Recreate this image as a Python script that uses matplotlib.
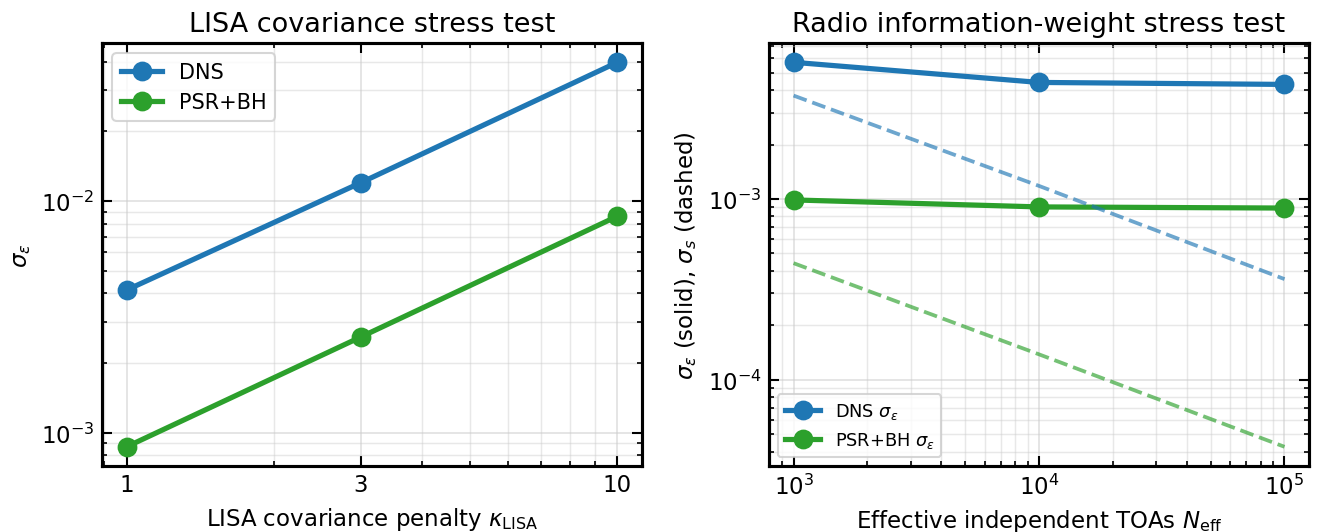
import numpy as np
import matplotlib
matplotlib.use("Agg")
import matplotlib.pyplot as plt
from matplotlib.ticker import FixedLocator, FixedFormatter, NullFormatter

# data
kappa = [1, 3, 10]
lisa_dns = [0.00413, 0.0120, 0.0397]
lisa_psrbh = [0.00087, 0.00259, 0.0086]

n_eff = [1e3, 1e4, 1e5]
radio_dns_eps = [5.70e-3, 4.41e-3, 4.30e-3]
radio_psrbh_eps = [9.87e-4, 9.03e-4, 8.90e-4]
radio_dns_s = [3.73e-3, 1.18e-3, 3.6e-4]
radio_psrbh_s = [4.41e-4, 1.38e-4, 4.25e-5]

blue = "#1f77b4"
green = "#2ca02c"

plt.rcParams["font.family"] = "DejaVu Sans"
plt.rcParams["mathtext.fontset"] = "dejavusans"

fig = plt.figure(figsize=(8.8, 3.553), dpi=150)
ax1 = fig.add_axes([0.0773, 0.1238, 0.4090, 0.7936])
ax2 = fig.add_axes([0.5826, 0.1238, 0.4091, 0.7936])


def style(ax):
    ax.set_xscale("log")
    ax.set_yscale("log")
    ax.grid(True, which="major", color="#cccccc", alpha=0.6, lw=0.8)
    ax.grid(True, which="minor", color="#cccccc", alpha=0.45, lw=0.7)
    ax.tick_params(which="both", direction="in", top=True, right=True, labelsize=11)
    ax.tick_params(which="major", length=5, width=1.0)
    ax.tick_params(which="minor", length=2.5, width=0.8)
    for s in ax.spines.values():
        s.set_linewidth(1.5)


# left panel
ax1.plot(kappa, lisa_dns, "-o", color=blue, lw=2.5, ms=8.5, label="DNS")
ax1.plot(kappa, lisa_psrbh, "-o", color=green, lw=2.5, ms=8.5, label="PSR+BH")
style(ax1)
ax1.xaxis.set_major_locator(FixedLocator(kappa))
ax1.xaxis.set_major_formatter(FixedFormatter(["1", "3", "10"]))
ax1.xaxis.set_minor_formatter(NullFormatter())
ax1.set_title("LISA covariance stress test", fontsize=13)
ax1.set_xlabel(r"LISA covariance penalty $\kappa_{\rm LISA}$", fontsize=11)
ax1.set_ylabel(r"$\sigma_\varepsilon$", fontsize=11)
ax1.legend(loc="upper left", fontsize=10)

# right panel
ax2.plot(n_eff, radio_dns_eps, "-o", color=blue, lw=2.5, ms=8.5, label=r"DNS $\sigma_\varepsilon$")
ax2.plot(n_eff, radio_psrbh_eps, "-o", color=green, lw=2.5, ms=8.5, label=r"PSR+BH $\sigma_\varepsilon$")
ax2.plot(n_eff, radio_dns_s, "--", color=blue, lw=1.8, alpha=0.65)
ax2.plot(n_eff, radio_psrbh_s, "--", color=green, lw=1.8, alpha=0.65)
style(ax2)
ax2.set_title("Radio information-weight stress test", fontsize=13)
ax2.set_xlabel(r"Effective independent TOAs $N_{\rm eff}$", fontsize=11)
ax2.set_ylabel(r"$\sigma_\varepsilon$ (solid), $\sigma_s$ (dashed)", fontsize=11)
ax2.legend(loc="lower left", fontsize=8.5)

plt.savefig("out.png", dpi=150)
